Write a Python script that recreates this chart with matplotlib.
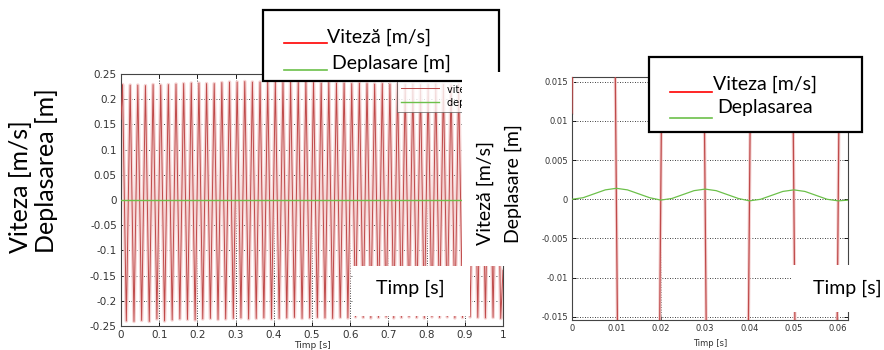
import numpy as np
import matplotlib.pyplot as plt
from matplotlib.patches import Rectangle
from matplotlib.lines import Line2D

# left plot: 1 s of velocity, read as alternating peaks / troughs (every 0.01 s)
vel_left_start = 0.16
vel_left_end = -0.14
vel_left_peaks = [0.229, 0.228, 0.228, 0.227, 0.229, 0.228, 0.229, 0.230, 0.231, 0.232,
                  0.232, 0.231, 0.231, 0.233, 0.234, 0.234, 0.235, 0.234, 0.234, 0.234,
                  0.234, 0.233, 0.234, 0.233, 0.234, 0.233, 0.232, 0.233, 0.232, 0.232,
                  0.231, 0.232, 0.231, 0.230, 0.231, 0.230, 0.230, 0.229, 0.230, 0.229,
                  0.229, 0.230, 0.229, 0.228, 0.229, 0.228, 0.229, 0.228, 0.227, 0.228]
vel_left_troughs = [-0.240, -0.241, -0.239, -0.241, -0.236, -0.240, -0.238, -0.236, -0.237, -0.238,
                    -0.236, -0.235, -0.237, -0.236, -0.235, -0.234, -0.236, -0.235, -0.234, -0.236,
                    -0.235, -0.234, -0.233, -0.235, -0.234, -0.233, -0.234, -0.235, -0.233, -0.234,
                    -0.232, -0.233, -0.234, -0.233, -0.232, -0.234, -0.233, -0.232, -0.233, -0.234,
                    -0.232, -0.233, -0.232, -0.234, -0.233, -0.232, -0.233, -0.234, -0.233, -0.235]
disp_left = [0.0007, 0.0007, 0.0007, 0.0007, 0.0007, 0.0007, 0.0007, 0.0007, 0.0007, 0.0007, 0.0007]

# right plot: first 0.0625 s, read every 0.0025 s
vel_right = [0.011, 0.170, 0.231, 0.165, 0.000, -0.165, -0.232, -0.166, 0.000,
             0.165, 0.231, 0.164, 0.000, -0.166, -0.233, -0.165, 0.000,
             0.164, 0.230, 0.163, 0.000, -0.165, -0.232, -0.164, 0.000, 0.165]
disp_right = [0.0000, 0.0002, 0.0007, 0.0012, 0.0014, 0.0012, 0.0007, 0.0002, -0.0001,
              0.0001, 0.0006, 0.0011, 0.0013, 0.0011, 0.0006, 0.0001, -0.0002,
              0.0000, 0.0005, 0.0010, 0.0012, 0.0010, 0.0005, 0.0000, -0.0002, -0.0001]

left_xticks = [0, 0.1, 0.2, 0.3, 0.4, 0.5, 0.6, 0.7, 0.8, 0.9, 1]
left_yticks = [-0.25, -0.2, -0.15, -0.1, -0.05, 0, 0.05, 0.1, 0.15, 0.2, 0.25]
right_xticks = [0, 0.01, 0.02, 0.03, 0.04, 0.05, 0.06]
right_yticks = [-0.015, -0.01, -0.005, 0, 0.005, 0.01, 0.015]

W, H = 884, 350
RED = "#bf4a4a"
HALO = "#f5d3d3"
GREEN = "#6cc04a"
FONT = ["Lato", "DejaVu Sans"]


def fx(x):
    return x / W


def fy(y):
    return 1 - y / H


def box(fig, x0, y0, x1, y1, z, edge=None):
    fig.add_artist(Rectangle((fx(x0), fy(y1)), (x1 - x0) / W, (y1 - y0) / H,
                             transform=fig.transFigure, facecolor="white",
                             edgecolor=edge if edge else "none", lw=1.6 if edge else 0,
                             zorder=z))


def matlab_axes(ax, xticks, yticks, size):
    ax.set_xticks(xticks)
    ax.set_yticks(yticks)
    ax.set_xticklabels([f"{v:g}" for v in xticks])
    ax.set_yticklabels([f"{v:g}" for v in yticks])
    ax.tick_params(direction="in", top=True, right=True, length=3, width=0.6,
                   labelsize=size, labelcolor="#333333", pad=3)
    ax.grid(True, color="black", linestyle=(0, (1, 2)), linewidth=0.6)
    for s in ax.spines.values():
        s.set_linewidth(0.8)
        s.set_color("#444444")


fig = plt.figure(figsize=(W / 100, H / 100), dpi=100)

# ---- left plot
t_ext = 0.004 + 0.01 * np.arange(100)
v_ext = np.empty(100)
v_ext[0::2] = vel_left_peaks
v_ext[1::2] = vel_left_troughs
t_left = np.concatenate([[0.0], t_ext, [1.0]])
v_left = np.concatenate([[vel_left_start], v_ext, [vel_left_end]])

ax1 = fig.add_axes([fx(121), fy(326), 382 / W, 252 / H])
ax1.plot(t_left, v_left, color=HALO, lw=2.6, zorder=2)
ax1.plot(t_left, v_left, color=RED, lw=0.7, zorder=3, label="viteza [m/s]")
ax1.plot(np.linspace(0, 1, len(disp_left)), disp_left, color=GREEN, lw=1.0, zorder=4,
         label="deplasare [m]")
ax1.set_xlim(0, 1)
ax1.set_ylim(-0.25, 0.25)
matlab_axes(ax1, left_xticks, left_yticks, 7.5)
ax1.set_xlabel("Timp [s]", fontsize=6.5, color="#333333", labelpad=0.5)
leg = ax1.legend(loc="upper left", bbox_to_anchor=((397 - 121) / 382, (326 - 80) / 252),
                 fontsize=7, handlelength=3.9, frameon=True, fancybox=False,
                 borderaxespad=0, borderpad=0.4, labelspacing=0.4)
leg.get_frame().set_edgecolor("#555555")
leg.get_frame().set_linewidth(0.6)

# ---- right plot
t_right = 0.0025 * np.arange(len(vel_right))
t_disp = 0.0025 * np.arange(len(disp_right))

ax2 = fig.add_axes([fx(572), fy(320), 276 / W, 243 / H])
ax2.plot(t_right, vel_right, color=HALO, lw=2.4, zorder=2)
ax2.plot(t_right, vel_right, color=RED, lw=0.9, zorder=3)
ax2.plot(t_disp, disp_right, color=GREEN, lw=0.9, zorder=4)
ax2.set_xlim(0, 0.0622)
ax2.set_ylim(-0.0154, 0.0156)
matlab_axes(ax2, right_xticks, right_yticks, 6)
ax2.set_xlabel("Timp [s]", fontsize=6, color="#333333", labelpad=4)

# ---- pasted text boxes
box(fig, 263, 10, 499, 81, 5, edge="black")
fig.add_artist(Line2D([fx(284), fx(327)], [fy(43), fy(43)], transform=fig.transFigure,
                      color="red", lw=1.2, zorder=6))
fig.add_artist(Line2D([fx(284), fx(327)], [fy(70), fy(70)], transform=fig.transFigure,
                      color=GREEN, lw=1.2, zorder=6))
fig.text(fx(327), fy(43), "Viteză [m/s]", family=FONT, fontsize=14, va="baseline", zorder=6)
fig.text(fx(332), fy(69), "Deplasare [m]", family=FONT, fontsize=14, va="baseline", zorder=6)

box(fig, 462, 72, 540, 266, 7)
fig.text(fx(485), fy(245), "Viteză [m/s]", family=FONT, fontsize=14, rotation=90,
         rotation_mode="anchor", ha="left", va="center", zorder=8)
fig.text(fx(513), fy(243), "Deplasare [m]", family=FONT, fontsize=14, rotation=90,
         rotation_mode="anchor", ha="left", va="center", zorder=8)

box(fig, 353, 266, 470, 316, 7)
fig.text(fx(410), fy(288), "Timp [s]", family=FONT, fontsize=14, ha="center", va="center",
         zorder=8)

box(fig, 649, 57, 862, 132, 5, edge="black")
fig.add_artist(Line2D([fx(670), fx(712)], [fy(92), fy(92)], transform=fig.transFigure,
                      color="red", lw=1.2, zorder=6))
fig.add_artist(Line2D([fx(670), fx(712)], [fy(118), fy(118)], transform=fig.transFigure,
                      color=GREEN, lw=1.2, zorder=6))
fig.text(fx(713), fy(90), "Viteza [m/s]", family=FONT, fontsize=14, va="baseline", zorder=6)
fig.text(fx(717), fy(113), "Deplasarea", family=FONT, fontsize=14, va="baseline", zorder=6)

box(fig, 792, 265, 884, 312, 7)
fig.text(fx(847), fy(288), "Timp [s]", family=FONT, fontsize=14, ha="center", va="center",
         zorder=8)

# axis titles on the far left
fig.text(fx(21), fy(253), "Viteza [m/s]", family=FONT, fontsize=18, rotation=90,
         rotation_mode="anchor", ha="left", va="center", zorder=8)
fig.text(fx(46), fy(253), "Deplasarea [m]", family=FONT, fontsize=18, rotation=90,
         rotation_mode="anchor", ha="left", va="center", zorder=8)

fig.savefig("out.png", dpi=100)
